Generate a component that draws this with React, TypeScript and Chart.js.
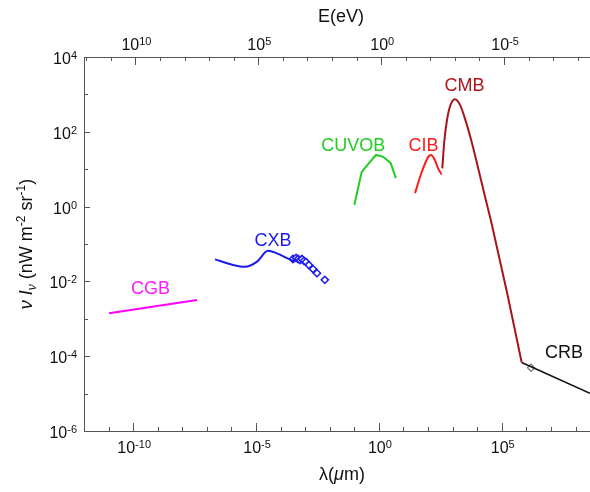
import { useEffect, useRef } from 'react';
import { Chart, registerables } from 'chart.js';

Chart.register(...registerables);

// ---- Data (λ in μm, νIν in nW m^-2 sr^-1) ----
const cgbLambda = [1.05e-11, 4.0e-8];
const cgbFlux = [1.41e-3, 3.16e-3];

const cxbLambda = [2.14e-7, 1.15e-6, 3.55e-6, 1.1e-5, 3.09e-5, 7.08e-5, 1.82e-4, 3.8e-4];
const cxbFlux = [0.0389, 0.0275, 0.0245, 0.0339, 0.0661, 0.0562, 0.0417, 0.0339];

const cxbObsLambda = [3.16e-4, 4.27e-4, 5.13e-4, 6.17e-4, 7.41e-4, 8.91e-4, 1.07e-3, 1.41e-3, 2.09e-3, 3.02e-3, 6.31e-3];
const cxbObsFlux = [0.0398, 0.0427, 0.0398, 0.0372, 0.0398, 0.0355, 0.0331, 0.0275, 0.0214, 0.0166, 0.011];

const cuvobLambda = [0.1, 0.2, 0.372, 0.759, 1.51, 3.02, 4.9];
const cuvobFlux = [1.1, 8.5, 13.8, 24.0, 21.4, 14.5, 5.75];

const cibLambda = [29.5, 55, 102, 132, 191, 257, 355];
const cibFlux = [2.29, 8.3, 21.4, 24.0, 17.4, 10.5, 7.2];

const cmbLambda = [380, 457, 575, 776, 1230, 2000, 3160, 5890, 1.1e4, 2.05e4, 3.98e4, 1.62e5, 6.46e5];
const cmbFlux = [10.5, 55, 186, 468, 740, 525, 229, 55, 10.5, 1.92, 0.323, 5.2e-3, 6.76e-5];

const crbLambda = [6.46e5, 3.89e8];
const crbFlux = [6.76e-5, 1.02e-5];

const crbObsLambda = [1.55e6];
const crbObsFlux = [4.9e-5];

// Axis ranges and labelled tick exponents
const lambdaMin = 1e-12;
const lambdaMax = 3.89e8;
const fluxMin = 1e-6;
const fluxMax = 1e4;
const hcEvMicron = 1.24; // E(eV) = 1.24 / λ(μm)
const bottomTickExps = [-10, -5, 0, 5];
const topTickExps = [10, 5, 0, -5];
const leftTickExps = [4, 2, 0, -2, -4, -6];

// Series labels (data coordinates)
const seriesLabels = [
  { text: 'CGB', x: 5.1e-10, y: 4.5e-3, color: '#ff1aff', align: 'center' },
  { text: 'CXB', x: 4.9e-5, y: 0.0885, color: '#1a1aee', align: 'center' },
  { text: 'CUVOB', x: 0.0903, y: 31.3, color: '#22cc22', align: 'center' },
  { text: 'CIB', x: 66, y: 31.3, color: '#ff1a1a', align: 'center' },
  { text: 'CMB', x: 3020, y: 1256, color: '#b0151a', align: 'center' },
  { text: 'CRB', x: 5.7e6, y: 8.8e-5, color: '#111111', align: 'left' },
];

const FONT = '"Liberation Sans", Arial, Helvetica, sans-serif';

function pts(xs: number[], ys: number[]) {
  return xs.map((v, i) => ({ x: v, y: ys[i] }));
}

type Seg = { t: string; size: number; italic?: boolean; dy?: number };

function richWidth(ctx: CanvasRenderingContext2D, segs: Seg[]) {
  let w = 0;
  for (const s of segs) {
    ctx.font = `${s.italic ? 'italic ' : ''}${s.size}px ${FONT}`;
    w += ctx.measureText(s.t).width;
  }
  return w;
}

function drawRich(ctx: CanvasRenderingContext2D, segs: Seg[], x: number, y: number, align: 'left' | 'center' | 'right') {
  const w = richWidth(ctx, segs);
  let cx = align === 'left' ? x : align === 'center' ? x - w / 2 : x - w;
  ctx.textAlign = 'left';
  ctx.textBaseline = 'alphabetic';
  for (const s of segs) {
    ctx.font = `${s.italic ? 'italic ' : ''}${s.size}px ${FONT}`;
    ctx.fillText(s.t, cx, y + (s.dy || 0));
    cx += ctx.measureText(s.t).width;
  }
}

function powSegs(exp: number): Seg[] {
  return [
    { t: '10', size: 16 },
    { t: String(exp), size: 11, dy: -5 },
  ];
}

const axesPlugin = {
  id: 'customAxes',
  afterDraw(chart: any) {
    const { ctx, chartArea: a, scales } = chart;
    const x = scales.x;
    const x2 = scales.x2;
    const y = scales.y;
    ctx.save();
    ctx.strokeStyle = '#555555';
    ctx.lineWidth = 1;
    ctx.beginPath();
    ctx.moveTo(a.left + 0.5, a.top);
    ctx.lineTo(a.left + 0.5, a.bottom + 1);
    ctx.moveTo(a.left, a.bottom + 0.5);
    ctx.lineTo(a.right, a.bottom + 0.5);
    ctx.moveTo(a.left, a.top + 0.5);
    ctx.lineTo(a.right, a.top + 0.5);
    // bottom ticks
    for (let k = -12; k <= 9; k++) {
      const px = Math.round(x.getPixelForValue(Math.pow(10, k))) + 0.5;
      if (px < a.left || px > a.right) continue;
      const len = bottomTickExps.includes(k) ? 8 : 4;
      ctx.moveTo(px, a.bottom);
      ctx.lineTo(px, a.bottom - len);
    }
    // top ticks
    for (let e = -9; e <= 13; e++) {
      const px = Math.round(x2.getPixelForValue(Math.pow(10, e))) + 0.5;
      if (px < a.left || px > a.right) continue;
      const len = topTickExps.includes(e) ? 8 : 4;
      ctx.moveTo(px, a.top);
      ctx.lineTo(px, a.top + len);
    }
    // left ticks
    for (let k = -6; k <= 4; k++) {
      const py = Math.round(y.getPixelForValue(Math.pow(10, k))) + 0.5;
      const len = leftTickExps.includes(k) ? 6 : 4;
      ctx.moveTo(a.left, py);
      ctx.lineTo(a.left + len, py);
    }
    ctx.stroke();

    ctx.fillStyle = '#111111';
    for (const k of bottomTickExps) {
      const px = x.getPixelForValue(Math.pow(10, k));
      drawRich(ctx, powSegs(k), px + 1, a.bottom + 22, 'center');
    }
    for (const e of topTickExps) {
      const px = x2.getPixelForValue(Math.pow(10, e));
      drawRich(ctx, powSegs(e), px + 1, a.top - 7, 'center');
    }
    for (const k of leftTickExps) {
      const py = y.getPixelForValue(Math.pow(10, k));
      drawRich(ctx, powSegs(k), a.left - 7, py + 7, 'right');
    }

    // axis titles
    const mid = (a.left + a.right) / 2;
    drawRich(ctx, [{ t: 'E(eV)', size: 18 }], mid + 4, 22, 'center');
    drawRich(
      ctx,
      [
        { t: 'λ(', size: 18 },
        { t: 'μ', size: 18, italic: true },
        { t: 'm)', size: 18 },
      ],
      mid + 5,
      480,
      'center'
    );
    ctx.save();
    ctx.translate(32, (a.top + a.bottom) / 2);
    ctx.rotate(-Math.PI / 2);
    drawRich(
      ctx,
      [
        { t: 'ν ', size: 18, italic: true },
        { t: 'I', size: 18, italic: true },
        { t: 'ν', size: 12, italic: true, dy: 4 },
        { t: ' (nW m', size: 18 },
        { t: '-2', size: 12, dy: -7 },
        { t: ' sr', size: 18 },
        { t: '-1', size: 12, dy: -7 },
        { t: ')', size: 18 },
      ],
      0,
      0,
      'center'
    );
    ctx.restore();

    // series labels
    for (const l of seriesLabels) {
      ctx.fillStyle = l.color;
      const px = x.getPixelForValue(l.x);
      const py = y.getPixelForValue(l.y);
      drawRich(ctx, [{ t: l.text, size: 18 }], px, py, l.align as any);
    }
    ctx.restore();
  },
};

export default function App() {
  const ref = useRef<HTMLCanvasElement | null>(null);

  useEffect(() => {
    if (!ref.current) return;
    const lineDs = (label: string, xs: number[], ys: number[], color: string, smooth = false, width = 2) => ({
      label,
      data: pts(xs, ys),
      showLine: true,
      borderColor: color,
      backgroundColor: color,
      borderWidth: width,
      pointRadius: 0,
      cubicInterpolationMode: smooth ? 'monotone' : 'default',
      tension: 0,
    });
    const chart = new Chart(ref.current, {
      type: 'scatter',
      data: {
        datasets: [
          lineDs('CGB', cgbLambda, cgbFlux, '#ff00ff'),
          lineDs('CXB', cxbLambda, cxbFlux, '#1a1aee', true),
          {
            label: 'CXB data',
            data: pts(cxbObsLambda, cxbObsFlux),
            showLine: false,
            pointStyle: 'rectRot',
            pointRadius: 3.6,
            borderColor: '#1a1aee',
            backgroundColor: 'rgba(255,255,255,0.9)',
            borderWidth: 1.5,
          },
          lineDs('CUVOB', cuvobLambda, cuvobFlux, '#22cc22'),
          lineDs('CIB', cibLambda, cibFlux, '#ff1a1a', true),
          lineDs('CMB', cmbLambda, cmbFlux, '#a8141a', true),
          lineDs('CRB', crbLambda, crbFlux, '#111111', false, 1.6),
          {
            label: 'CRB data',
            data: pts(crbObsLambda, crbObsFlux),
            showLine: false,
            pointStyle: 'rectRot',
            pointRadius: 3.6,
            borderColor: '#777777',
            backgroundColor: 'rgba(255,255,255,0)',
            borderWidth: 1.2,
          },
        ] as any,
      },
      options: {
        animation: false,
        responsive: false,
        maintainAspectRatio: false,
        layout: { autoPadding: false, padding: { left: 84, right: 0, top: 57, bottom: 61 } },
        plugins: { legend: { display: false }, tooltip: { enabled: false } },
        scales: {
          x: { type: 'logarithmic', min: lambdaMin, max: lambdaMax, display: false },
          x2: {
            type: 'logarithmic',
            axis: 'x',
            position: 'top',
            reverse: true,
            min: hcEvMicron / lambdaMax,
            max: hcEvMicron / lambdaMin,
            display: false,
          },
          y: { type: 'logarithmic', min: fluxMin, max: fluxMax, display: false },
        } as any,
      } as any,
      plugins: [axesPlugin],
    });
    return () => chart.destroy();
  }, []);

  return (
    <div style={{ position: 'fixed', left: 0, top: 0, width: 590, height: 492, background: '#fff' }}>
      <canvas ref={ref} width={590} height={492} style={{ width: 590, height: 492, display: 'block' }} />
    </div>
  );
}
